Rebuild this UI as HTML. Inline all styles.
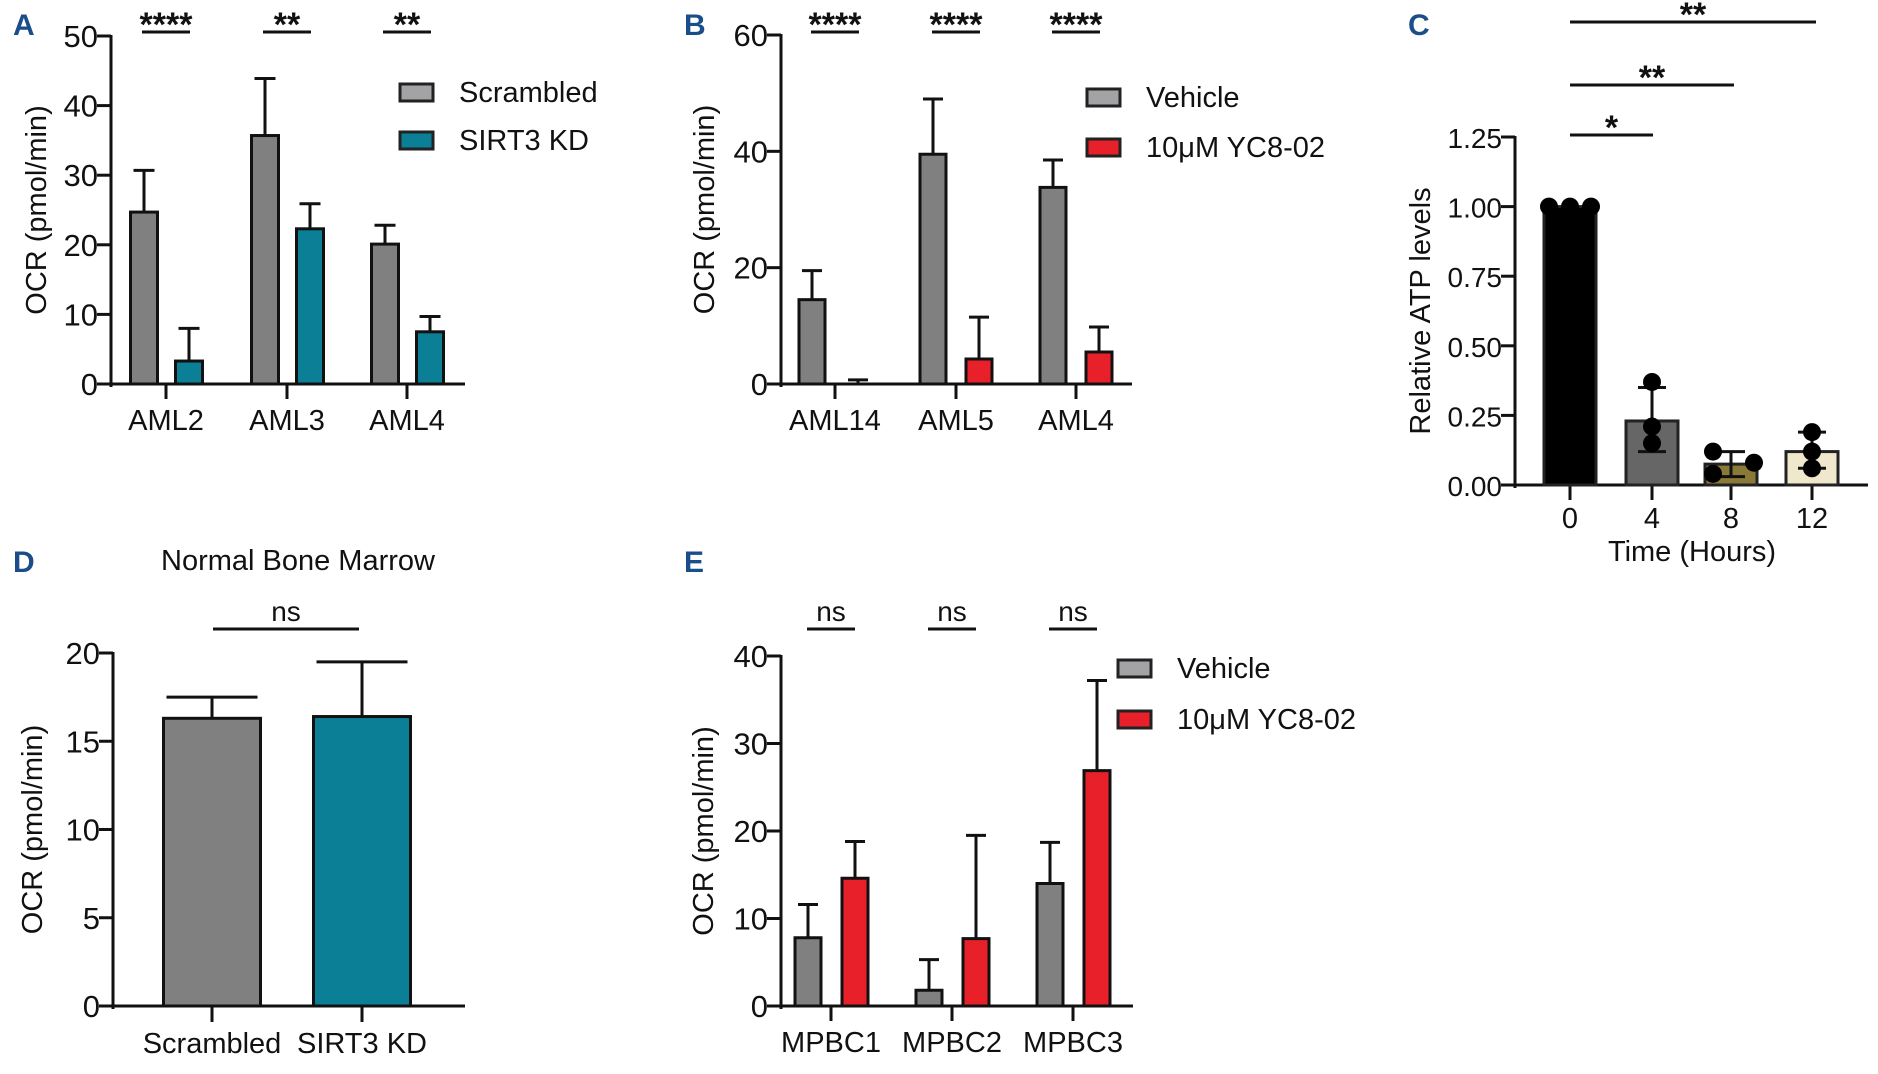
<!DOCTYPE html>
<html><head><meta charset="utf-8">
<style>
html,body{margin:0;padding:0;background:#fff;}
svg{display:block;font-family:"Liberation Sans",Arial,sans-serif;}
</style></head>
<body>
<svg id="fig" width="1878" height="1074" viewBox="0 0 1878 1074" xmlns="http://www.w3.org/2000/svg">
<rect width="1878" height="1074" fill="#fff"/>
<g font-weight="bold" fill="#1a4e8a" font-size="30">
<text x="13" y="35">A</text>
<text x="684" y="35">B</text>
<text x="1408" y="35">C</text>
<text x="13" y="572">D</text>
<text x="684" y="572">E</text>
</g>
</svg>
<script>
// Panel A data
const aCats = ["AML2","AML3","AML4"];
const aScr = [24.7,35.7,20.1];
const aScrErr = [30.7,43.9,22.8];
const aKD = [3.3,22.3,7.5];
const aKDErr = [8.0,25.9,9.7];
const aTicks = [0,10,20,30,40,50];
const aSig = ["****","**","**"];
// Panel B data
const bCats = ["AML14","AML5","AML4"];
const bVeh = [14.5,39.5,33.8];
const bVehErr = [19.5,49.0,38.5];
const bYC = [0,4.3,5.5];
const bYCErr = [0.7,11.5,9.8];
const bTicks = [0,20,40,60];
const bSig = ["****","****","****"];
// Panel C data
const cCats = ["0","4","8","12"];
const cMeans = [1.0,0.23,0.075,0.12];
const cErrLo = [1.0,0.12,0.03,0.06];
const cErrHi = [1.0,0.35,0.12,0.19];
const cDots = [[1,1,1],[0.37,0.21,0.15],[0.12,0.08,0.04],[0.19,0.12,0.06]];
const cTicks = [0,0.25,0.5,0.75,1.0,1.25];
// Panel D data
const dCats = ["Scrambled","SIRT3 KD"];
const dVals = [16.3,16.4];
const dErr = [17.5,19.5];
const dTicks = [0,5,10,15,20];
// Panel E data
const eCats = ["MPBC1","MPBC2","MPBC3"];
const eVeh = [7.8,1.8,14.0];
const eVehErr = [11.6,5.3,18.7];
const eYC = [14.6,7.7,26.9];
const eYCErr = [18.8,19.5,37.2];
const eTicks = [0,10,20,30,40];
const eSig = ["ns","ns","ns"];

const NS="http://www.w3.org/2000/svg";
const svg=document.getElementById('fig');
function mk(tag,attrs,parent){const e=document.createElementNS(NS,tag);for(const k in attrs)e.setAttribute(k,attrs[k]);(parent||svg).appendChild(e);return e;}
function txt(s,attrs,parent){const e=mk('text',attrs,parent);e.textContent=s;return e;}
function line(x1,y1,x2,y2,w,parent){return mk('line',{x1,y1,x2,y2,stroke:'#111','stroke-width':w||3},parent);}

function axes(g,x0,xEnd,yTop,y0,max,ticks,fmt,title,titleOff,tfs){
  const y=v=>y0-(v/max)*(y0-yTop);
  const ax=line(x0,yTop-1,x0,y0+3,3,g);
  
  
  const bx=line(x0,y0,xEnd,y0,3,g);
  
  
  ticks.forEach(t=>{
    line(x0-14,y(t),x0,y(t),3,g);
    const tl=txt(fmt(t),{x:x0-13,y:y(t)+11,'font-size':tfs||31,'text-anchor':'end',fill:'#111'},g);
    
    
  });
  const tt=txt(title,{x:0,y:0,'font-size':29,'text-anchor':'middle',fill:'#111',transform:`translate(${x0-titleOff+10},${(yTop+y0)/2}) rotate(-90)`},g);
  
  
  return y;
}
function bar(g,cx,w,y,v,err,fill,name){
  const b=mk('rect',{x:cx-w/2,y:y(v),width:w,height:y(0)-y(v),fill:fill,stroke:'#111','stroke-width':3},g);
  
  
  if(err>v){line(cx,y(v),cx,y(err),3,g);line(cx-w/2+3,y(err),cx+w/2-3,y(err),3,g);}
}
function legend(g,x,y1,y2,items){
  items.forEach((it,i)=>{
    const yy=i?y2:y1;
    const r=mk('rect',{x:x,y:yy,width:33,height:17,fill:it[1],stroke:'#222','stroke-width':3},g);
    
    
    const t=txt(it[0],{x:x+59,y:yy+18,'font-size':29,fill:'#111'},g);
    
    
  });
}
function sigMark(g,x1,x2,yl,label){
  line(x1,yl,x2,yl,3,g);
  const isNs=label==='ns';
  const st=txt(label,{x:(x1+x2)/2,y:isNs?yl-8:yl+4,'font-size':isNs?28:34,'font-weight':isNs?'normal':'bold','text-anchor':'middle',fill:'#111'},g);
  
  
}
function grouped(cfg){
  const g=mk('g',{});
  
  
  const y=axes(g,cfg.x0,cfg.xEnd,cfg.yTop,cfg.y0,cfg.max,cfg.ticks,t=>String(t),'OCR (pmol/min)',cfg.tOff);
  cfg.cats.forEach((c,i)=>{
    const cx=cfg.cx[i];
    line(cx,cfg.y0,cx,cfg.y0+15,3,g);
    const cl=txt(c,{x:cx,y:cfg.y0+46,'font-size':29,'text-anchor':'middle',fill:'#111'},g);
    
    
    bar(g,cx+cfg.off1,cfg.bw,y,cfg.s1[i],cfg.e1[i],cfg.c1,'bar-'+c.toLowerCase()+'-control');
    bar(g,cx+cfg.off2,cfg.bw,y,cfg.s2[i],cfg.e2[i],cfg.c2,'bar-'+c.toLowerCase()+'-treated');
    sigMark(g,cx-24,cx+24,cfg.sigY,cfg.sig[i]);
  });
  legend(g,cfg.lx,cfg.ly1,cfg.ly2,cfg.leg);
}
grouped({name:'panel-a',x0:111,xEnd:465,yTop:36,y0:384,max:50,ticks:aTicks,cats:aCats,cx:[166,287,407],tOff:75,
  off1:-22,off2:23,bw:27,s1:aScr,e1:aScrErr,s2:aKD,e2:aKDErr,c1:'#808080',c2:'#0a7f96',sig:aSig,sigY:32,
  lx:400,ly1:84,ly2:132,leg:[['Scrambled','#a3a3a6'],['SIRT3 KD','#0a7f96']]});
grouped({name:'panel-b',x0:781,xEnd:1132,yTop:35,y0:384,max:60,ticks:bTicks,cats:bCats,cx:[835,956,1076],tOff:77,
  off1:-23,off2:23,bw:26,s1:bVeh,e1:bVehErr,s2:bYC,e2:bYCErr,c1:'#808080',c2:'#e8202a',sig:bSig,sigY:32,
  lx:1087,ly1:89,ly2:139,leg:[['Vehicle','#a3a3a6'],['10\u03bcM YC8-02','#e8202a']]});
grouped({name:'panel-e',x0:781,xEnd:1133,yTop:656,y0:1006,max:40,ticks:eTicks,cats:eCats,cx:[831,952,1073],tOff:78,
  off1:-23,off2:24,bw:26,s1:eVeh,e1:eVehErr,s2:eYC,e2:eYCErr,c1:'#808080',c2:'#e8202a',sig:eSig,sigY:629,
  lx:1118,ly1:660,ly2:711,leg:[['Vehicle','#a3a3a6'],['10\u03bcM YC8-02','#e8202a']]});

// Panel D
(function(){
  const g=mk('g',{});
  
  
  const y=axes(g,113,465,653,1006,20,dTicks,t=>String(t),'OCR (pmol/min)',81);
  const cxs=[212,362],fills=['#808080','#0a7f96'];
  dCats.forEach((c,i)=>{
    line(cxs[i],1006,cxs[i],1022,3,g);
    const cl=txt(c,{x:cxs[i],y:1053,'font-size':29,'text-anchor':'middle',fill:'#111'},g);
    
    
    bar(g,cxs[i],97,y,dVals[i],dErr[i],fills[i],'bar-'+c.toLowerCase().replace(/ /g,'-'));
  });
  const t=txt('Normal Bone Marrow',{x:298,y:570,'font-size':29,'text-anchor':'middle',fill:'#111'},g);
  
  
  sigMark(g,213,359,629,'ns');
})();

// Panel C
(function(){
  const g=mk('g',{});
  
  
  const y=axes(g,1515,1868,137,485,1.25,cTicks,t=>t.toFixed(2),'Relative ATP levels',95,28);
  const cxs=[1570,1652,1731,1812],fills=['#000','#666666','#8a7a38','#efe8cc'];
  const dotOff=[[-21,0,21],[0,0,0],[-18,23,-18],[0,0,0]];
  cCats.forEach((c,i)=>{
    const cx=cxs[i];
    line(cx,485,cx,500,3,g);
    const cl=txt(c,{x:cx,y:528,'font-size':29,'text-anchor':'middle',fill:'#111'},g);
    
    
    const b=mk('rect',{x:cx-26,y:y(cMeans[i]),width:52,height:485-y(cMeans[i]),fill:fills[i],stroke:'#222','stroke-width':3},g);
    
    
    if(cErrHi[i]>cErrLo[i]){
      line(cx,y(cErrLo[i]),cx,y(cErrHi[i]),3,g);
      line(cx-14,y(cErrLo[i]),cx+14,y(cErrLo[i]),3,g);
      line(cx-14,y(cErrHi[i]),cx+14,y(cErrHi[i]),3,g);
    }
    cDots[i].forEach((v,j)=>{
      const d=mk('circle',{cx:cx+dotOff[i][j],cy:y(v),r:9,fill:'#000'},g);
      
      
    });
  });
  const xt=txt('Time (Hours)',{x:1692,y:561,'font-size':29,'text-anchor':'middle',fill:'#111'},g);
  
  
  sigMark(g,1570,1816,22,'**');
  sigMark(g,1570,1734,85,'**');
  sigMark(g,1570,1653,135,'*');
})();
</script>
</body></html>
